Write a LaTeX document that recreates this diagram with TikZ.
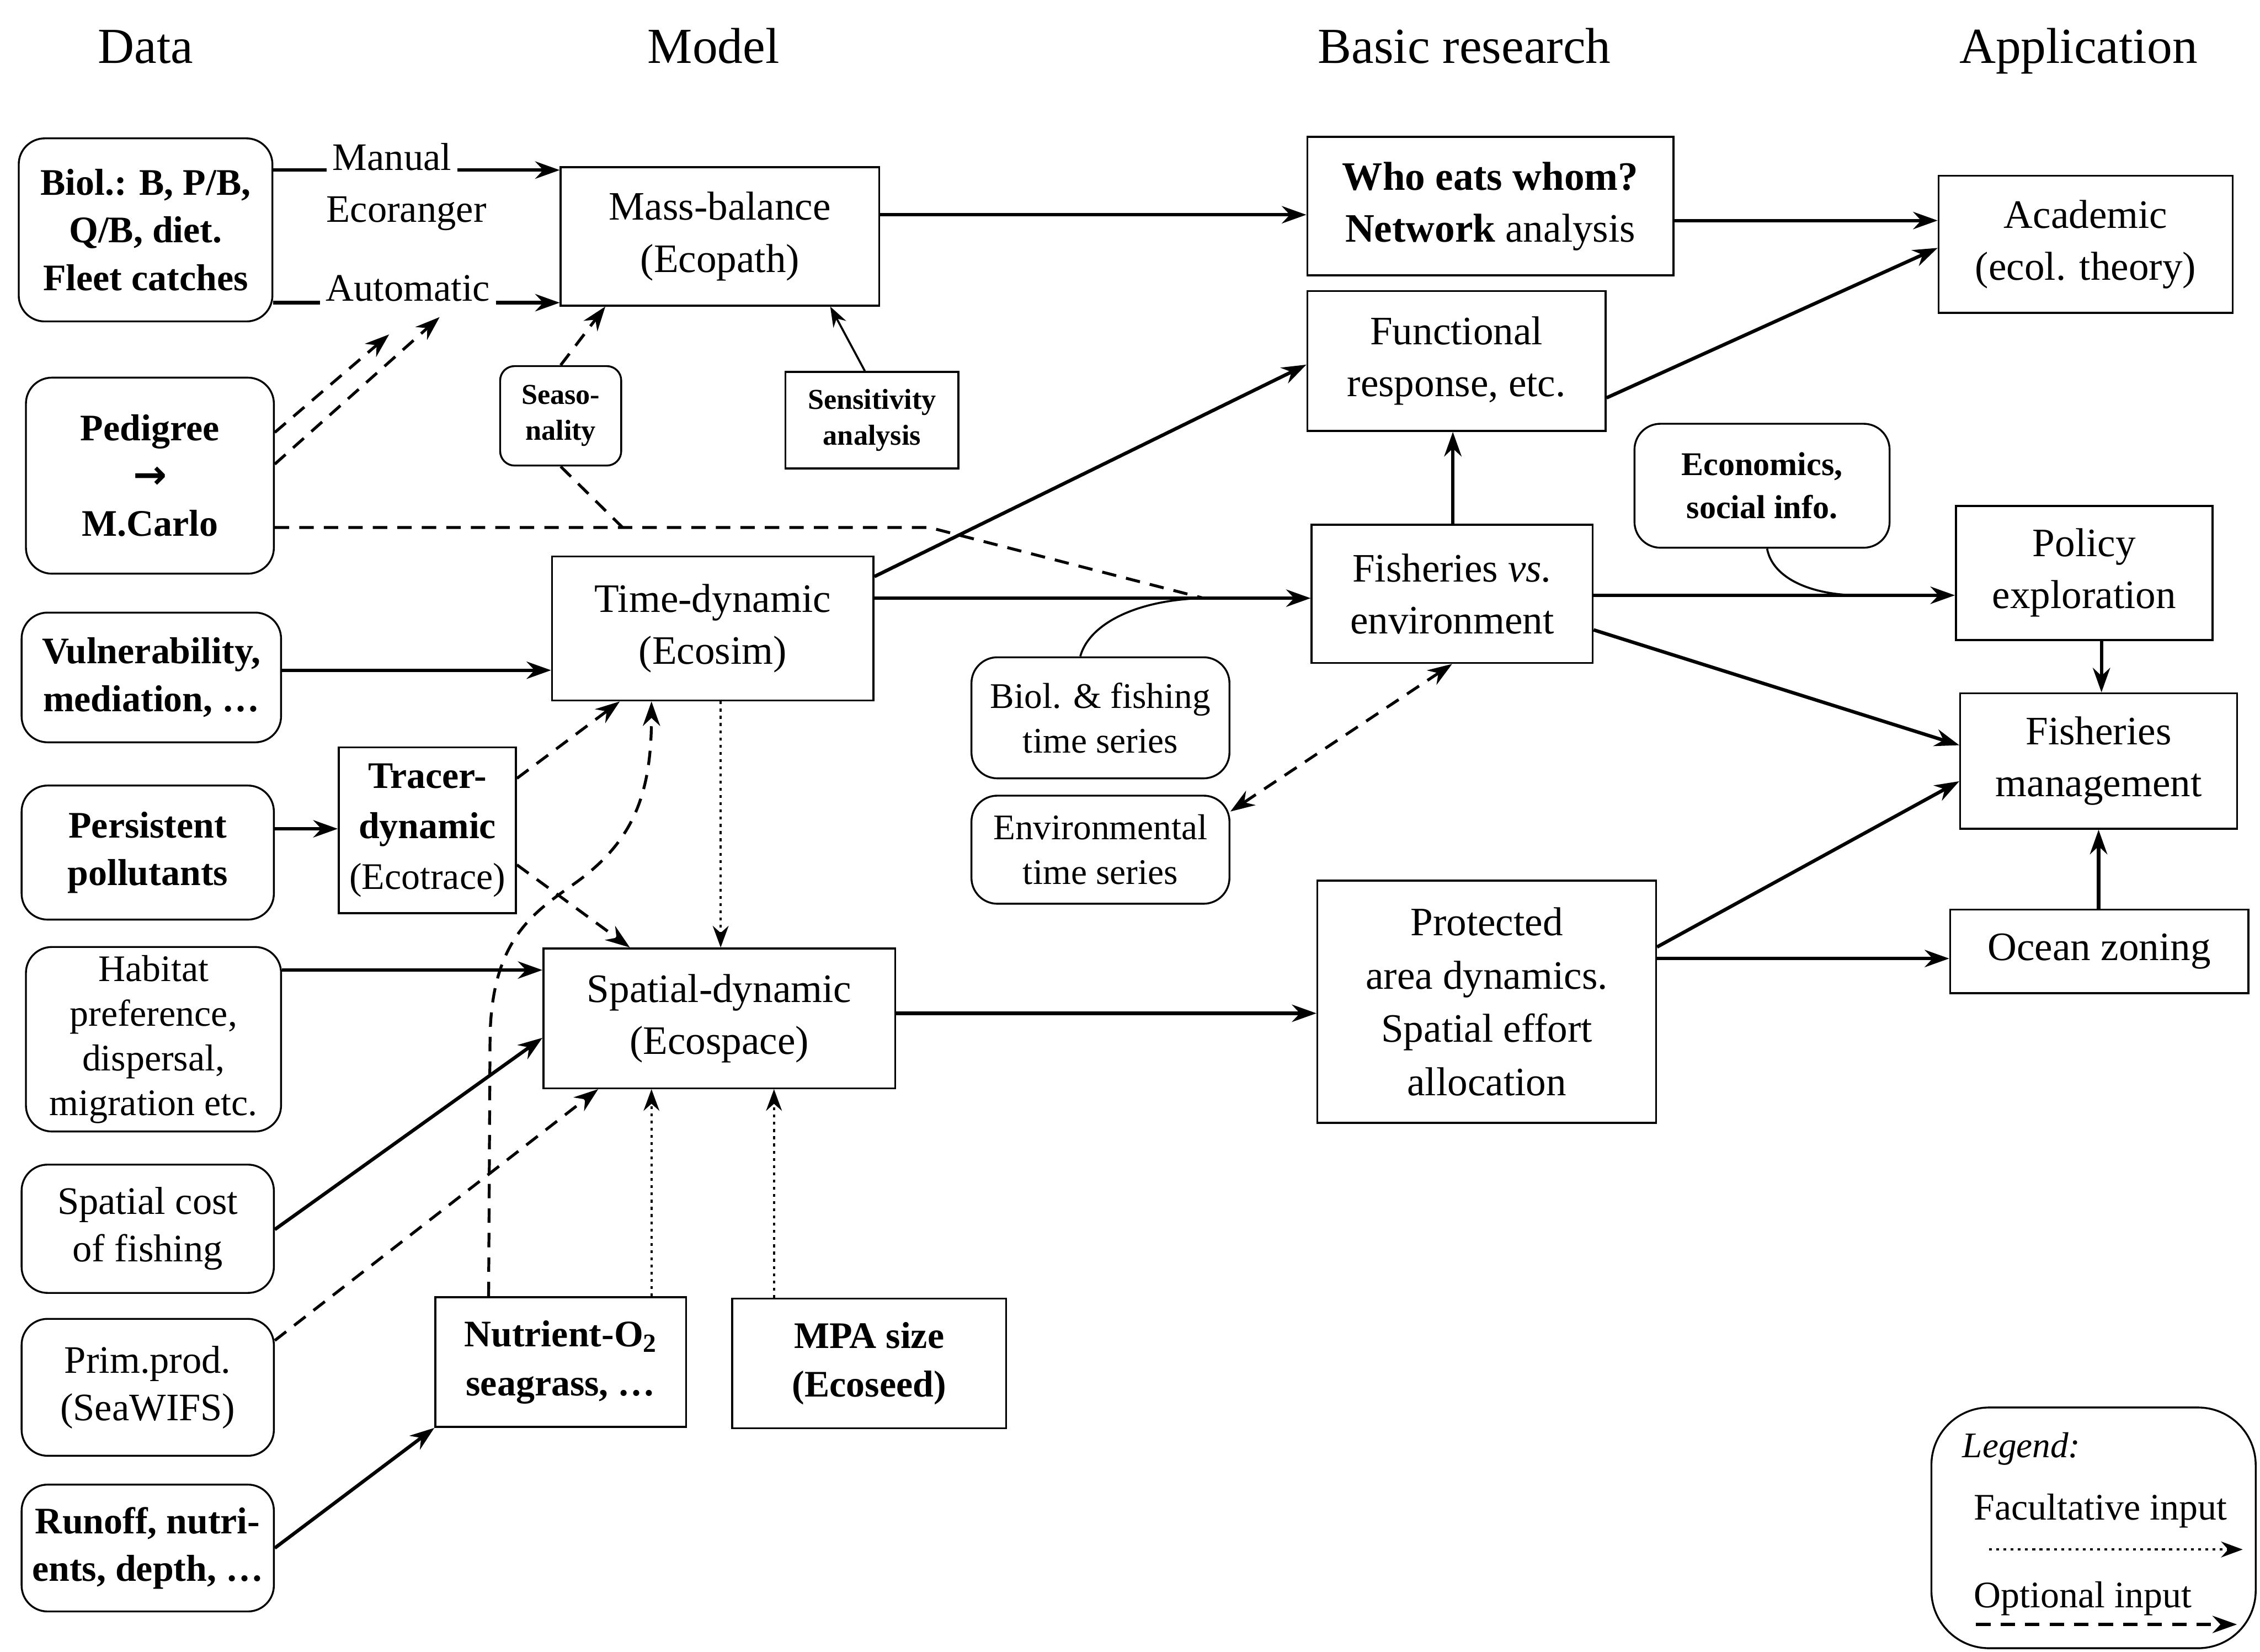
\documentclass[tikz,border=0pt]{standalone}
\usepackage{fontspec}
\setmainfont{Liberation Serif}
\newfontfamily\symfont{DejaVu Sans}
\usetikzlibrary{arrows.meta,calc}
\tikzset{
  dbox/.style={draw, rounded corners=18pt, line width=1.3pt, align=center, inner sep=0pt,
    font=\fontsize{26}{33}\selectfont\bfseries},
  dboxr/.style={dbox, font=\fontsize{27}{33}\selectfont},
  mbox/.style={draw, line width=1.3pt, align=center, inner sep=0pt,
    font=\fontsize{28}{36}\selectfont},
  mboxb/.style={mbox, font=\fontsize{26}{34}\selectfont\bfseries},
  sbox/.style={draw, line width=1.3pt, align=center, inner sep=0pt,
    font=\fontsize{20}{25}\selectfont\bfseries},
  hdr/.style={font=\fontsize{35}{40}\selectfont, anchor=base},
  lbl/.style={font=\fontsize{27}{33}\selectfont, fill=white, inner sep=4pt},
  tip/.style={-{Stealth[length=17pt,width=12pt]}},
  arr/.style={line width=2.4pt, tip},
  thinarr/.style={line width=1.4pt, -{Stealth[length=14pt,width=10pt]}},
  facarr/.style={line width=1.5pt, dash pattern=on 2pt off 3pt, -{Stealth[length=15pt,width=11pt]}},
  optline/.style={line width=2pt, dash pattern=on 10pt off 7pt},
  optarr/.style={optline, tip},
  optboth/.style={optline, {Stealth[length=17pt,width=12pt]}-{Stealth[length=17pt,width=12pt]}},
  thinline/.style={line width=1.4pt},
}
\begin{document}
\begin{tikzpicture}[x=1pt,y=-1pt]
\useasboundingbox (0,0) rectangle (1568,1146);

% headers
\node[hdr] (hData) at (101,44) {Data};
\node[hdr] (hModel) at (495,44) {Model};
\node[hdr] (hBasic) at (1016,44) {Basic research};
\node[hdr] (hApp) at (1442,44) {Application};

% data column
\node[dbox, minimum width=176pt, minimum height=127pt] (biol) at (101,159.5) {Biol.: B, P/B,\\ Q/B, diet.\\ Fleet catches};
\node[dbox, minimum width=172pt, minimum height=136pt] (ped) at (104,330) {Pedigree\\ {\symfont\bfseries\fontsize{28}{33}\selectfont →}\\ M.Carlo};
\node[dbox, minimum width=180pt, minimum height=90pt] (vul) at (105,470) {Vulnerability,\\ mediation, \dots};
\node[dbox, minimum width=175pt, minimum height=93pt] (pers) at (102.5,591.5) {Persistent\\ pollutants};
\node[dboxr, font=\fontsize{26}{31}\selectfont, minimum width=177pt, minimum height=128pt] (hab) at (106.5,721) {Habitat\\ preference,\\ dispersal,\\ migration etc.};
\node[dboxr, minimum width=175pt, minimum height=89pt] (cost) at (102.5,852.5) {Spatial cost\\ of fishing};
\node[dboxr, minimum width=175pt, minimum height=95pt] (prim) at (102.5,962.5) {Prim.prod.\\ (SeaWIFS)};
\node[dbox, minimum width=175pt, minimum height=88pt] (run) at (102.5,1074) {Runoff, nutri-\\ ents, depth, \dots};

% model column
\node[mbox, minimum width=221pt, minimum height=96pt] (mb) at (499.5,164) {Mass-balance\\ (Ecopath)};
\node[sbox, rounded corners=10pt, minimum width=84pt, minimum height=69pt] (seas) at (389,288.5) {Seaso-\\ nality};
\node[sbox, minimum width=120pt, minimum height=67pt] (sens) at (605,291.5) {Sensitivity\\ analysis};
\node[mbox, minimum width=223pt, minimum height=100pt] (td) at (494.5,436) {Time-dynamic\\ (Ecosim)};
\node[mbox, font=\fontsize{26}{35}\selectfont, minimum width=123pt, minimum height=115pt] (tr) at (296.5,576) {\textbf{Tracer-}\\ \textbf{dynamic}\\ (Ecotrace)};
\node[mbox, minimum width=244pt, minimum height=97pt] (sd) at (499,706.5) {Spatial-dynamic\\ (Ecospace)};
\node[mboxb, minimum width=174pt, minimum height=90pt] (nut) at (389,945) {Nutrient-O\textsubscript{2}\\ seagrass, \dots};
\node[mboxb, minimum width=190pt, minimum height=90pt] (mpa) at (603,946) {MPA size\\ (Ecoseed)};

% basic research column
\node[mbox, minimum width=254pt, minimum height=96pt] (who) at (1034,143) {\textbf{Who eats whom?}\\ \textbf{Network} analysis};
\node[mbox, minimum width=207pt, minimum height=97pt] (fr) at (1010.5,250.5) {Functional\\ response, etc.};
\node[mbox, minimum width=195pt, minimum height=96pt] (fe) at (1007.5,412) {Fisheries \textit{vs.}\\ environment};
\node[dboxr, font=\fontsize{25}{31}\selectfont, minimum width=179pt, minimum height=84pt] (bft) at (763.5,498) {Biol. \& fishing\\ time series};
\node[dboxr, font=\fontsize{25}{31}\selectfont, minimum width=179pt, minimum height=75pt] (ets) at (763.5,589.5) {Environmental\\ time series};
\node[dbox, font=\fontsize{23}{30}\selectfont\bfseries, minimum width=177pt, minimum height=86pt] (eco) at (1222.5,337) {Economics,\\ social info.};
\node[mbox, font=\fontsize{28}{37}\selectfont, minimum width=235pt, minimum height=168pt] (pad) at (1031.5,695) {Protected\\ area dynamics.\\ Spatial effort\\ allocation};

% application column
\node[mbox, minimum width=204pt, minimum height=95pt] (ac) at (1447,169.5) {Academic\\ (ecol. theory)};
\node[mbox, minimum width=178pt, minimum height=93pt] (pol) at (1446,397.5) {Policy\\ exploration};
\node[mbox, minimum width=192pt, minimum height=94pt] (fm) at (1456,528) {Fisheries\\ management};
\node[mbox, minimum width=207pt, minimum height=58pt] (oz) at (1456.5,660) {Ocean zoning};

% legend
\node[draw, rounded corners=40pt, line width=1.3pt, minimum width=225pt, minimum height=167pt] (leg) at (1452.5,1060) {};
\node[anchor=west, font=\fontsize{25}{30}\selectfont\itshape] (legt) at (1358,1005) {Legend:};
\node[anchor=west, font=\fontsize{26}{31}\selectfont] (lf) at (1366,1048) {Facultative input};
\node[anchor=west, font=\fontsize{26}{31}\selectfont] (lo) at (1366,1109) {Optional input};
\coordinate (lfa) at (1380,1075);
\coordinate (lfb) at (1556,1075);
\coordinate (loa) at (1371,1127);
\coordinate (lob) at (1552,1127);
\draw[facarr] (lfa) -- (lfb);
\draw[optarr] (loa) -- (lob);

% ---- connectors ----
\draw[arr] (biol.east |- 0,118) -- (mb.west |- 0,118);
\draw[arr] (biol.east |- 0,210) -- (mb.west |- 0,210);
\node[lbl] (man) at (272,109) {Manual};
\node[lbl] (ecor) at (282,148) {Ecoranger};
\node[lbl] (auto) at (283,200) {Automatic};

\coordinate (pa) at (270,232);
\coordinate (pb) at (305,220);
\draw[optarr] (ped.east |- 0,300) -- (pa);
\draw[optarr] (ped.east |- 0,322) -- (pb);

\draw[optarr] (seas.north) -- (mb.south -| 420,0);
\coordinate (jm) at (432,366);
\coordinate (jt) at (645,366);
\coordinate (jf) at (835,415);
\draw[optline] (seas.south) -- (jm);
\draw[optline] (ped.east |- 0,366) -- (jt) -- (jf);

\draw[thinarr] (sens.north -| 600,0) -- (mb.south -| 576,0);
\draw[arr] (mb.east |- 0,149) -- (who.west |- 0,149);

\draw[arr] (vul.east |- 0,465) -- (td.west |- 0,465);
\draw[arr] (pers.east |- 0,575) -- (tr.west |- 0,575);
\draw[optarr] (tr.east |- 0,600) -- (sd.north -| 437,0);
\draw[optarr] (tr.east |- 0,540) -- (td.south -| 430,0);
\draw[facarr] (td.south -| 500,0) -- (sd.north -| 500,0);

\draw[arr] (hab.east |- 0,673) -- (sd.west |- 0,673);
\draw[arr] (cost.east |- 0,853) -- (sd.west |- 0,720);
\draw[optarr] (prim.east |- 0,930) -- (sd.south -| 415,0);
\draw[optarr] (nut.north -| 339,0) -- (340,720)
  .. controls (341,650) and (372,632) .. (400,612)
  .. controls (440,583) and (452,550) .. (td.south -| 452,0);
\draw[facarr] (nut.north -| 452,0) -- (sd.south -| 452,0);
\draw[facarr] (mpa.north -| 537,0) -- (sd.south -| 537,0);
\draw[arr] (run.east) -- (nut.south west);

\draw[arr] (sd.east |- 0,703) -- (pad.west |- 0,703);
\draw[arr] (td.east |- 0,400) -- (fr.west |- 0,253);
\draw[arr] (td.east |- 0,415) -- (fe.west |- 0,415);
\draw[thinline] ($(bft.north)+(-14,0)$) .. controls (756,432) and (790,416) .. (jf);

\draw[arr] (fe.north -| 1008,0) -- (fr.south -| 1008,0);
\draw[optboth] (fe.south) -- (ets.east |- 0,563);

\coordinate (je) at (1290,413);
\draw[arr] (fe.east |- 0,413) -- (pol.west |- 0,413);
\draw[thinline] (eco.south -| 1226,0) .. controls (1230,402) and (1258,413) .. (je);
\draw[arr] (fe.east |- 0,437) -- (fm.west |- 0,517);
\draw[arr] (pol.south -| 1458,0) -- (fm.north -| 1458,0);
\draw[arr] (pad.east |- 0,657) -- (fm.west |- 0,542);
\draw[arr] (pad.east |- 0,665) -- (oz.west |- 0,665);
\draw[arr] (oz.north -| 1456,0) -- (fm.south -| 1456,0);

\draw[arr] (who.east |- 0,153) -- (ac.west |- 0,153);
\draw[arr] (fr.east |- 0,276) -- (ac.west |- 0,172);
\end{tikzpicture}
\end{document}
